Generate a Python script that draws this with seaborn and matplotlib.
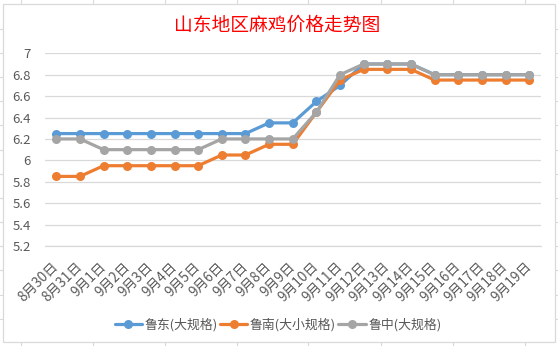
import matplotlib
matplotlib.use("Agg")
import matplotlib.pyplot as plt
from matplotlib.lines import Line2D
from matplotlib.patches import Rectangle
import seaborn as sns
import pandas as pd
import numpy as np

dates = ["8月30日", "8月31日", "9月1日", "9月2日", "9月3日", "9月4日", "9月5日",
         "9月6日", "9月7日", "9月8日", "9月9日", "9月10日", "9月11日", "9月12日",
         "9月13日", "9月14日", "9月15日", "9月16日", "9月17日", "9月18日", "9月19日"]
ludong = [6.25, 6.25, 6.25, 6.25, 6.25, 6.25, 6.25, 6.25, 6.25, 6.35, 6.35,
          6.55, 6.70, 6.90, 6.90, 6.90, 6.80, 6.80, 6.80, 6.80, 6.80]
lunan = [5.85, 5.85, 5.95, 5.95, 5.95, 5.95, 5.95, 6.05, 6.05, 6.15, 6.15,
         6.45, 6.75, 6.85, 6.85, 6.85, 6.75, 6.75, 6.75, 6.75, 6.75]
luzhong = [6.20, 6.20, 6.10, 6.10, 6.10, 6.10, 6.10, 6.20, 6.20, 6.20, 6.20,
           6.45, 6.80, 6.90, 6.90, 6.90, 6.80, 6.80, 6.80, 6.80, 6.80]
series_names = ["鲁东(大规格)", "鲁南(大小规格)", "鲁中(大规格)"]
colors = ["#5B9BD5", "#ED7D31", "#A5A5A5"]
title = "山东地区麻鸡价格走势图"
yticks = [5.2, 5.4, 5.6, 5.8, 6.0, 6.2, 6.4, 6.6, 6.8, 7.0]
ytick_labels = ["5.2", "5.4", "5.6", "5.8", "6", "6.2", "6.4", "6.6", "6.8", "7"]

sns.set_style("white")
plt.rcParams["font.family"] = ["Noto Sans CJK SC", "DejaVu Sans"]

rows = []
for name, vals in zip(series_names, [ludong, lunan, luzhong]):
    for i, v in enumerate(vals):
        rows.append({"idx": i, "date": dates[i], "price": v, "region": name})
df = pd.DataFrame(rows)

W, H = 558, 346
fig = plt.figure(figsize=(W / 100, H / 100), dpi=100)
fig.patch.set_facecolor("white")

# spreadsheet background lines & chart frame
for x in [21, 92.5, 165, 237, 308, 381, 453, 525]:
    fig.add_artist(Line2D([x / W, x / W], [1, 1 - 3 / H], color="#D9D9D9", lw=0.8))
    fig.add_artist(Line2D([x / W, x / W], [0, 4 / H], color="#D9D9D9", lw=0.8))
for y in [28.5, 52.7, 77, 101, 125, 150, 174, 198, 222, 246, 270, 295, 319]:
    fig.add_artist(Line2D([0, 3 / W], [1 - y / H, 1 - y / H], color="#D9D9D9", lw=0.8))
    fig.add_artist(Line2D([1 - 3 / W, 1], [1 - y / H, 1 - y / H], color="#D9D9D9", lw=0.8))
fig.add_artist(Rectangle((3 / W, 4 / H), (555 - 3) / W, (342 - 4) / H,
                         fill=False, edgecolor="#D9D9D9", lw=0.9))

left, right = 44.5 / W, 541 / W
top, bottom = 1 - 53.3 / H, 1 - 246 / H
ax = fig.add_axes([left, bottom, right - left, top - bottom])

sns.lineplot(data=df, x="idx", y="price", hue="region", hue_order=series_names,
             palette=colors, marker="o", markersize=6.5, markeredgewidth=0,
             linewidth=2.3, ax=ax, legend=False, sort=False)

ax.set_xlim(-0.5, len(dates) - 0.5)
ax.set_ylim(5.2, 7.0)
ax.set_yticks(yticks)
ax.set_yticklabels(ytick_labels, fontsize=9.5, color="#595959")
ax.yaxis.grid(True, color="#D9D9D9", lw=0.9)
ax.set_axisbelow(True)
ax.set_xticks(range(len(dates)))
ax.set_xticklabels(dates, rotation=45, ha="right", va="center",
                   rotation_mode="anchor", fontsize=9.8, color="#595959")
ax.set_xticks(np.arange(-0.5, len(dates), 1.0), minor=True)
ax.tick_params(axis="x", which="major", length=0, pad=13)
ax.tick_params(axis="x", which="minor", length=4, color="#D9D9D9", width=0.9)
ax.tick_params(axis="y", length=0, pad=10)
for s in ["top", "right", "left"]:
    ax.spines[s].set_visible(False)
ax.spines["bottom"].set_color("#D9D9D9")
ax.spines["bottom"].set_linewidth(0.9)
ax.set_xlabel("")
ax.set_ylabel("")

fig.text(277 / W, 1 - 25 / H, title, color="#FF0000", fontsize=13.5,
         ha="center", va="center")

handles = [Line2D([], [], color=c, lw=2.3, marker="o", markersize=6.5,
                  markeredgewidth=0) for c in colors]
fig.legend(handles, series_names, loc="center", bbox_to_anchor=(278 / W, 1 - 325 / H),
           ncol=3, frameon=False, fontsize=9.3, labelcolor="#595959",
           handlelength=2.1, handletextpad=0.2, columnspacing=0.2)

fig.savefig("out.png", dpi=100)
